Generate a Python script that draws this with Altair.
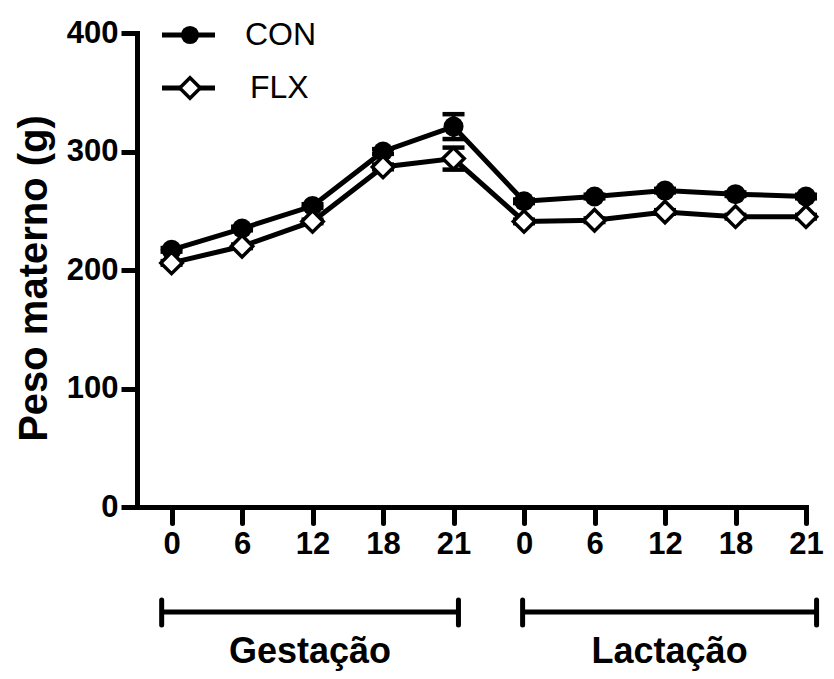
import altair as alt
import pandas as pd

# ---- data ----
day_labels = ["0", "6", "12", "18", "21", "0", "6", "12", "18", "21"]
day_index = list(range(10))
series_names = ["CON", "FLX"]
con_mean = [217, 235, 254, 300, 321, 258, 262, 267, 264, 262]
con_sem = [1.5, 1.5, 1.5, 2, 10.5, 1.5, 1.5, 1.5, 1.5, 1.5]
flx_mean = [206, 220, 241, 287, 294, 241, 242, 249, 245, 245]
flx_sem = [1.5, 1.5, 1.5, 2, 9.3, 1.5, 1.5, 1.5, 1.5, 1.5]
periods = ["Gestação", "Lactação"]
bracket_start = [-0.14, 4.98]
bracket_end = [4.07, 9.15]
y_ticks = [0, 100, 200, 300, 400]

rows = []
for name, means, sems in [("CON", con_mean, con_sem), ("FLX", flx_mean, flx_sem)]:
    for i, m, s in zip(day_index, means, sems):
        rows.append({"series": name, "idx": i, "day": day_labels[i],
                     "mean": m, "lo": m - s, "hi": m + s})
df = pd.DataFrame(rows)
df_br = pd.DataFrame({"period": periods, "start": bracket_start, "end": bracket_end})

FONT = "Liberation Sans"
x_scale = alt.Scale(domain=[-0.49, 9], nice=False, zero=False)
y_scale = alt.Scale(domain=[0, 400], nice=False)
label_expr = "[" + ",".join(f"'{d}'" for d in day_labels) + "][datum.value]"

x_axis = alt.Axis(values=day_index, labelExpr=label_expr, title=None, grid=False,
                  tickSize=16, tickWidth=5, domainWidth=5, labelFontSize=31,
                  labelFontWeight="bold", labelPadding=6, labelFlush=False,
                  domainCap="square", tickCap="round")
x_enc = alt.X("idx:Q", scale=x_scale, axis=x_axis)
y_enc = alt.Y("mean:Q", scale=y_scale,
              axis=alt.Axis(values=y_ticks, title="Peso materno (g)", titleFontSize=40,
                            titleFontWeight="bold", titleAngle=270, titleX=-103, titleY=245,
                            titleAlign="center", titleBaseline="middle", grid=False,
                            tickSize=16, tickWidth=5, domainWidth=5, labelFontSize=31,
                            labelFontWeight="bold", labelPadding=3, labelFlush=False,
                            domainCap="square"))

base = alt.Chart(df).encode(x=x_enc, y=y_enc)

lines = base.mark_line(color="black", strokeWidth=5).encode(detail="series:N")
err = base.mark_rule(color="black", strokeWidth=4).encode(y="lo:Q", y2="hi:Q")
cap_hi = base.mark_rule(color="black", strokeWidth=4.5, xOffset=-11, x2Offset=11).encode(
    x2="idx:Q", y="hi:Q")
cap_lo = base.mark_rule(color="black", strokeWidth=4.5, xOffset=-11, x2Offset=11).encode(
    x2="idx:Q", y="lo:Q")
pts_con = base.transform_filter(alt.datum.series == "CON").mark_point(
    shape="circle", filled=True, color="black", size=400, opacity=1)
pts_flx = base.transform_filter(alt.datum.series == "FLX").mark_point(
    shape="diamond", filled=False, fill="white", stroke="black", strokeWidth=3.5,
    size=460, opacity=1, fillOpacity=1)

# period brackets under the x axis
brk = alt.Chart(df_br)
brk_line = brk.mark_rule(color="black", strokeWidth=5).encode(
    x=alt.X("start:Q", scale=x_scale, axis=x_axis), x2="end:Q", y=alt.value(579))
brk_l = brk.mark_rule(color="black", strokeWidth=5, strokeCap="round").encode(
    x=alt.X("start:Q", scale=x_scale, axis=x_axis), y=alt.value(567), y2=alt.value(592))
brk_r = brk.mark_rule(color="black", strokeWidth=5, strokeCap="round").encode(
    x=alt.X("end:Q", scale=x_scale, axis=x_axis), y=alt.value(567), y2=alt.value(592))
brk_txt = brk.transform_calculate(mid="(datum.start + datum.end) / 2").mark_text(
    font=FONT, fontSize=36, fontWeight="bold", color="black", baseline="alphabetic").encode(
    x=alt.X("mid:Q", scale=x_scale, axis=x_axis), y=alt.value(630), text="period:N")

# legend
legend_layers = []
for i, name in enumerate(series_names):
    ly = 2 + i * 53
    ldf = pd.DataFrame({"series": [name]})
    lc = alt.Chart(ldf)
    legend_layers.append(lc.mark_rule(color="black", strokeWidth=5).encode(
        x=alt.value(25), x2=alt.value(78), y=alt.value(ly)))
    if name == "CON":
        legend_layers.append(lc.mark_point(shape="circle", filled=True, color="black",
                                           size=330, opacity=1).encode(
            x=alt.value(53), y=alt.value(ly)))
    else:
        legend_layers.append(lc.mark_point(shape="diamond", filled=False, fill="white",
                                           stroke="black", strokeWidth=3.5, size=420,
                                           opacity=1, fillOpacity=1).encode(
            x=alt.value(53), y=alt.value(ly)))
    legend_layers.append(lc.mark_text(font=FONT, fontSize=32, color="black", align="left",
                                      baseline="middle").encode(
        x=alt.value(108 + 5 * i), y=alt.value(ly), text="series:N"))

chart = alt.layer(
    lines, err, cap_hi, cap_lo, pts_con, pts_flx,
    brk_line, brk_l, brk_r, brk_txt, *legend_layers
).properties(
    width=669, height=474,
    autosize=alt.AutoSizeParams(type="none"),
    padding={"left": 129, "top": 25, "right": 20, "bottom": 164},
).configure(font=FONT).configure_view(stroke="transparent").configure_axis(
    domainColor="black", tickColor="black", labelColor="black", titleColor="black")

chart.save("out.html", embed_options={"renderer": "svg", "actions": False})
